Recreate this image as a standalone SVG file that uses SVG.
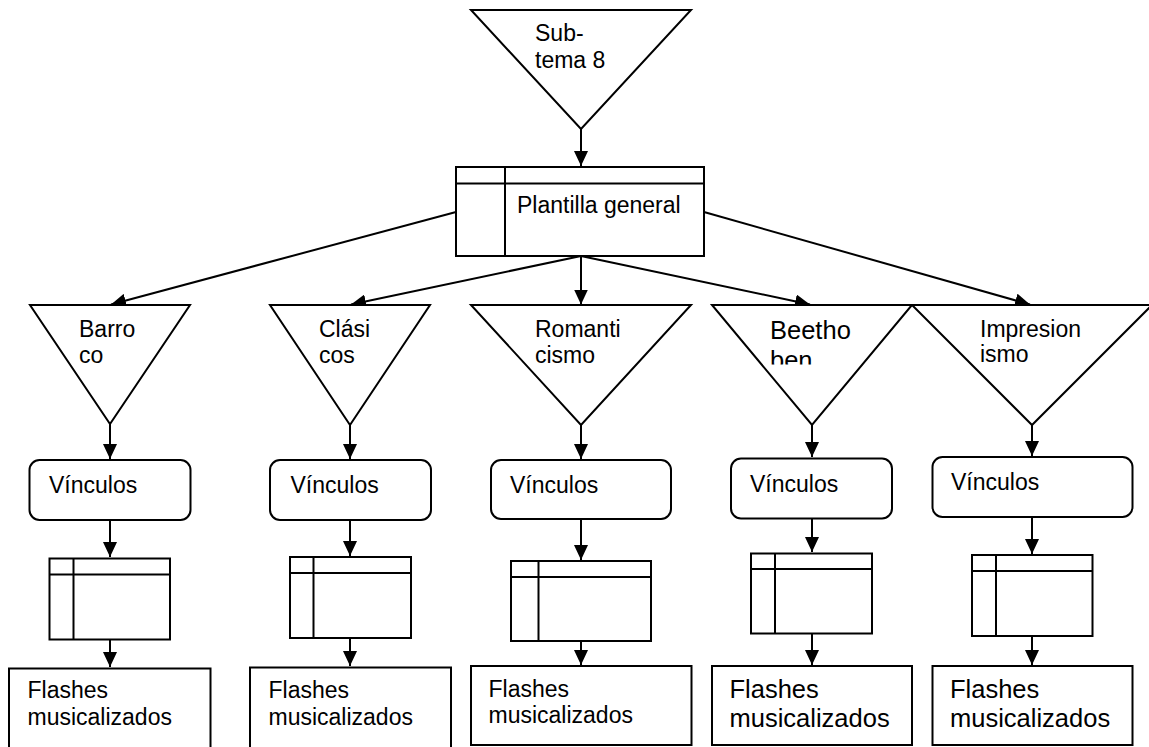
<svg xmlns="http://www.w3.org/2000/svg" width="1149" height="747" viewBox="0 0 1149 747">
<defs>
<marker id="arr" markerUnits="userSpaceOnUse" markerWidth="16" markerHeight="14" refX="15" refY="7" orient="auto"><path d="M0,0 L15,7 L0,14 z" fill="#000"/></marker>
<clipPath id="clipB"><rect x="700" y="300" width="220" height="64.5"/></clipPath>
</defs>
<style>
.s{fill:#fff;stroke:#000;stroke-width:2}
.l{fill:none;stroke:#000;stroke-width:2}
.c{fill:none;stroke:#000;stroke-width:2;marker-end:url(#arr)}
text{font-family:"Liberation Sans",Arial,sans-serif;font-size:23px;fill:#000}
.b{font-size:25.5px}
</style>
<rect width="1149" height="747" fill="#fff"/>
<g id="connectors">
<line class="c" x1="581" y1="129" x2="581" y2="166"/>
<line class="c" x1="456" y1="212" x2="111" y2="304.5"/>
<line class="c" x1="581" y1="256" x2="351" y2="304.5"/>
<line class="c" x1="581" y1="256" x2="581" y2="304.5"/>
<line class="c" x1="581" y1="256" x2="810" y2="304.5"/>
<line class="c" x1="704" y1="212" x2="1030" y2="304.5"/>
<line class="c" x1="110" y1="424" x2="110" y2="459"/>
<line class="c" x1="110" y1="520" x2="110" y2="557"/>
<line class="c" x1="110" y1="639" x2="110" y2="667"/>
<line class="c" x1="350" y1="425" x2="350" y2="459"/>
<line class="c" x1="350" y1="520" x2="350" y2="556"/>
<line class="c" x1="350" y1="638" x2="350" y2="666"/>
<line class="c" x1="581" y1="425" x2="581" y2="459"/>
<line class="c" x1="581" y1="519" x2="581" y2="560"/>
<line class="c" x1="581" y1="641" x2="581" y2="665"/>
<line class="c" x1="812" y1="425" x2="812" y2="457"/>
<line class="c" x1="812" y1="518" x2="812" y2="552"/>
<line class="c" x1="812" y1="633" x2="812" y2="665"/>
<line class="c" x1="1032" y1="425" x2="1032" y2="456"/>
<line class="c" x1="1032" y1="517" x2="1032" y2="554"/>
<line class="c" x1="1032" y1="636" x2="1032" y2="665"/>
</g>
<g id="subtema8">
<polygon class="s" points="471,10 691,10 581,129"/>
<text x="535" y="41">Sub-</text>
<text x="535" y="68">tema 8</text>
</g>
<g id="plantilla">
<rect class="s" x="456" y="167" width="248" height="89"/>
<line class="l" x1="456" y1="183.5" x2="704" y2="183.5"/>
<line class="l" x1="505" y1="167" x2="505" y2="256"/>
<text x="517" y="213">Plantilla general</text>
</g>
<g id="barroco">
<polygon class="s" points="30,305 190,305 110,424"/>
<text x="79" y="337">Barro</text>
<text x="79" y="363">co</text>
</g>
<g id="clasicos">
<polygon class="s" points="270,305 430,305 350,425"/>
<text x="319" y="337">Clási</text>
<text x="319" y="363">cos</text>
</g>
<g id="romanticismo">
<polygon class="s" points="471,305 691,305 581,425"/>
<text x="535" y="337">Romanti</text>
<text x="535" y="363">cismo</text>
</g>
<g id="beethoben">
<polygon class="s" points="712,305 912,305 812,425"/>
<g clip-path="url(#clipB)">
<text class="b" x="770" y="339">Beetho</text>
<text class="b" x="770" y="369">ben</text>
</g>
</g>
<g id="impresionismo">
<polygon class="s" points="912,305 1152,305 1032,425"/>
<text x="980" y="337">Impresion</text>
<text x="980" y="362">ismo</text>
</g>
<g id="vinculos1"><rect class="s" x="29.5" y="460" width="161" height="60" rx="10"/><text x="49" y="493">Vínculos</text></g>
<g id="vinculos2"><rect class="s" x="270" y="460" width="161" height="60" rx="10"/><text x="290.5" y="493">Vínculos</text></g>
<g id="vinculos3"><rect class="s" x="491" y="460" width="180" height="59" rx="10"/><text x="510" y="493">Vínculos</text></g>
<g id="vinculos4"><rect class="s" x="731" y="458.5" width="161" height="60" rx="10"/><text x="750" y="491.5">Vínculos</text></g>
<g id="vinculos5"><rect class="s" x="932.5" y="457" width="200" height="60" rx="10"/><text x="951" y="489.5">Vínculos</text></g>
<g id="tabla1"><rect class="s" x="49.5" y="558.5" width="120.5" height="81"/><line class="l" x1="49.5" y1="574.5" x2="170" y2="574.5"/><line class="l" x1="73.5" y1="558.5" x2="73.5" y2="639.5"/></g>
<g id="tabla2"><rect class="s" x="290" y="557" width="121" height="81"/><line class="l" x1="290" y1="573" x2="411" y2="573"/><line class="l" x1="313.5" y1="557" x2="313.5" y2="638"/></g>
<g id="tabla3"><rect class="s" x="511" y="561" width="140" height="80"/><line class="l" x1="511" y1="577" x2="651" y2="577"/><line class="l" x1="538.5" y1="561" x2="538.5" y2="641"/></g>
<g id="tabla4"><rect class="s" x="751" y="553.5" width="121" height="80"/><line class="l" x1="751" y1="569" x2="872" y2="569"/><line class="l" x1="775" y1="553.5" x2="775" y2="633.5"/></g>
<g id="tabla5"><rect class="s" x="972" y="555" width="120.5" height="81"/><line class="l" x1="972" y1="571" x2="1092.5" y2="571"/><line class="l" x1="996" y1="555" x2="996" y2="636"/></g>
<g id="flashes1"><rect class="s" x="9" y="668.5" width="201.5" height="100"/><text x="27.5" y="698">Flashes</text><text x="27.5" y="725">musicalizados</text></g>
<g id="flashes2"><rect class="s" x="250" y="667.5" width="201" height="100"/><text x="268.5" y="698">Flashes</text><text x="268.5" y="725">musicalizados</text></g>
<g id="flashes3"><rect class="s" x="471" y="666" width="220.5" height="79"/><text x="488.5" y="696.5">Flashes</text><text x="488.5" y="723">musicalizados</text></g>
<g id="flashes4"><rect class="s" x="712" y="666" width="200" height="79"/><text class="b" x="729.5" y="698">Flashes</text><text class="b" x="729.5" y="727">musicalizados</text></g>
<g id="flashes5"><rect class="s" x="932.5" y="666" width="200" height="79"/><text class="b" x="950" y="698">Flashes</text><text class="b" x="950" y="727">musicalizados</text></g>
</svg>
